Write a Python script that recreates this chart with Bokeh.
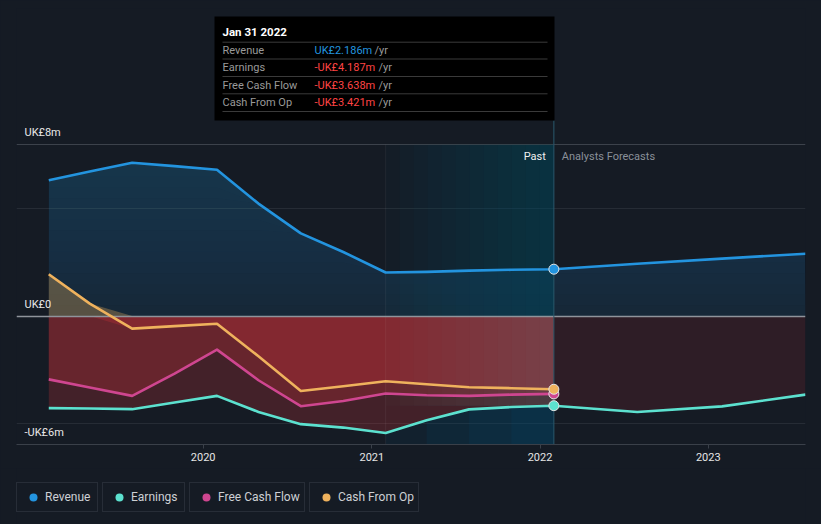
import numpy as np
import pandas as pd
from bokeh.plotting import figure
from bokeh.layouts import column
from bokeh.models import Range1d, FixedTicker, DatetimeTickFormatter, Legend, LegendItem
from bokeh.core.properties import value
from bokeh.embed import file_html
from bokeh.resources import INLINE

# ---------------- data ----------------
dates_past = ["2019-01-31", "2019-04-30", "2019-07-31", "2019-10-31",
              "2020-01-31", "2020-04-30", "2020-07-31", "2020-10-31",
              "2021-01-31", "2021-04-30", "2021-07-31", "2021-10-31",
              "2022-01-31"]
revenue_past = [6.34, 6.75, 7.16, 7.0, 6.83, 5.25, 3.86, 2.99, 2.03, 2.06, 2.12, 2.16, 2.186]
earnings_past = [-4.30, -4.32, -4.35, -4.04, -3.73, -4.48, -5.05, -5.21, -5.46, -4.87, -4.36, -4.25, -4.187]
fcf_past = [-2.96, -3.34, -3.73, -2.69, -1.57, -3.0, -4.21, -3.97, -3.62, -3.70, -3.73, -3.67, -3.638]
cfo_past = [1.95, 0.58, -0.59, -0.47, -0.36, -1.88, -3.50, -3.28, -3.05, -3.19, -3.33, -3.37, -3.421]

dates_fc = ["2022-07-31", "2023-01-31", "2023-07-31"]
revenue_fc = [2.44, 2.68, 2.91]
earnings_fc = [-4.48, -4.22, -3.67]

year_ticks = ["2020-01-01", "2021-01-01", "2022-01-01", "2023-01-01"]
y_label_values = [8, 0, -6]
y_labels = ["UK£8m", "UK£0", "-UK£6m"]
grid_values = [-5, 5]
series_names = ["Revenue", "Earnings", "Free Cash Flow", "Cash From Op"]
past_start = "2021-01-31"

# ---------------- style ----------------
BG = "#151b24"
FONT = "Roboto"
C_REV = "#2394df"
C_EARN = "#5ce1cf"
C_FCF = "#cf4690"
C_CFO = "#efb25d"
C_RED = "#e6353b"


def ms(d):
    return pd.Timestamp(d).value / 1e6


W, H_MAIN, H_LEG = 821, 468, 56
X0, X1 = ms("2018-11-22"), ms("2023-07-31")
Y0, Y1 = -6.0, 14.36
# frame in page pixels
FL, FR, FT, FB = 16, 805, 8, 444


def px_x(px):
    return X0 + (px - FL) / (FR - FL) * (X1 - X0)


def px_y(py):
    return Y1 - (py - FT) / (FB - FT) * (Y1 - Y0)


dp = np.array([ms(d) for d in dates_past])
dfc = np.array([ms(d) for d in dates_fc])
d_all = np.concatenate([dp, dfc])
d_fc = np.concatenate([dp[-1:], dfc])
rev_all = np.array(revenue_past + revenue_fc)
earn_past = np.array(earnings_past)
earn_fc = np.array(earnings_past[-1:] + earnings_fc)
earn_all = np.array(earnings_past + earnings_fc)
fcf = np.array(fcf_past)
cfo = np.array(cfo_past)
d_last = dp[-1]
d_hl = ms(past_start)
hl_mask = dp >= d_hl
dp_hl = dp[hl_mask]
earn_hl = earn_past[hl_mask]

p = figure(width=W, height=H_MAIN, x_axis_type="datetime", y_axis_location=None,
           x_range=Range1d(X0, X1), y_range=Range1d(Y0, Y1),
           output_backend="svg", toolbar_location=None,
           min_border_left=FL, min_border_right=W - FR, min_border_top=FT,
           min_border_bottom=H_MAIN - FB,
           background_fill_color=BG, border_fill_color=BG, outline_line_color=None)
p.xgrid.visible = False
p.ygrid.visible = False

# grid lines
p.hspan(y=grid_values, line_color="#262c35", line_width=1)
p.hspan(y=[y_label_values[0]], line_color="#3c424b", line_width=1)

# revenue fill: base layer + stacked thin layers for a vertical gradient
p.varea(x=d_all, y1=0, y2=rev_all, fill_color=C_REV, fill_alpha=0.11)
for k in np.arange(0.5, 8.0, 0.5):
    p.varea(x=d_all, y1=np.minimum(k, rev_all), y2=rev_all, fill_color=C_REV, fill_alpha=0.016)
# positive cash-from-op fill
p.varea(x=dp, y1=0, y2=np.maximum(cfo, 0), fill_color=C_CFO, fill_alpha=0.3)
# negative fills
for s, xs in ((cfo, dp), (fcf, dp), (earn_past, dp)):
    p.varea(x=xs, y1=0, y2=np.minimum(s, 0), fill_color=C_RED, fill_alpha=0.22)
p.varea(x=d_fc, y1=0, y2=np.minimum(earn_fc, 0), fill_color=C_RED, fill_alpha=0.12)

# past-year highlight: horizontal gradient built from stacked layers
n_q = 12
for i in range(n_q):
    left = d_hl + (d_last - d_hl) * i / n_q
    p.quad(left=[left], right=[d_last], bottom=[0], top=[y_label_values[0]],
           fill_color="#005478", fill_alpha=0.045, line_color=None)
    p.quad(left=[left], right=[d_last], bottom=[earn_hl.max()], top=[0],
           fill_color="#7088a0", fill_alpha=0.027, line_color=None)
for j in range(len(dp_hl) - 1):
    p.varea(x=dp_hl[j:], y1=Y0, y2=earn_hl[j:], fill_color="#005478", fill_alpha=0.12)
p.segment(x0=[d_hl], y0=[Y0], x1=[d_hl], y1=[y_label_values[0]], line_color="#ffffff",
          line_alpha=0.06, line_width=1)

# zero line
p.hspan(y=[0], line_color="#8f949b", line_width=1.5)

# vertical marker line
p.segment(x0=[d_last], y0=[Y0], x1=[d_last], y1=[px_y(120)], line_color="#2a5a6c", line_width=1)

# lines
p.line(d_all, rev_all, line_color=C_REV, line_width=2.6, line_join="round")
p.line(dp, cfo, line_color=C_CFO, line_width=2.6, line_join="round")
p.line(dp, fcf, line_color=C_FCF, line_width=2.6, line_join="round")
p.line(d_all, earn_all, line_color=C_EARN, line_width=2.6, line_join="round")

# end markers
last_vals = [revenue_past[-1], earnings_past[-1], fcf_past[-1], cfo_past[-1]]
colors = [C_REV, C_EARN, C_FCF, C_CFO]
for v, c in zip(last_vals, colors):
    p.scatter(x=[d_last], y=[v], size=10, fill_color=c, line_color="#e6e6e6", line_width=1)

# y labels
p.text(x=[X0] * len(y_labels), y=y_label_values, text=y_labels, x_offset=8, y_offset=-12,
       text_baseline="middle", text_align="left", text_font=value(FONT),
       text_font_size="11px", text_color="#e8e8e8")

# Past / forecast labels
p.text(x=[d_last], y=[y_label_values[0]], text=["Past"], x_offset=-8, y_offset=12,
       text_baseline="middle", text_align="right", text_font=value(FONT),
       text_font_size="11px", text_color="#f0f0f0")
p.text(x=[d_last], y=[y_label_values[0]], text=["Analysts Forecasts"], x_offset=8, y_offset=12,
       text_baseline="middle", text_align="left", text_font=value(FONT),
       text_font_size="11px", text_color="#8a9099")

# tooltip box
p.quad(left=[px_x(214)], right=[px_x(554)], bottom=[px_y(120)], top=[px_y(16)],
       fill_color="#000000", line_color=None)
sep_y = [41.7, 58.5, 76, 93.3, 111]
p.segment(x0=[px_x(222)] * 5, y0=[px_y(v) for v in sep_y], x1=[px_x(547)] * 5,
          y1=[px_y(v) for v in sep_y], line_color="#3a3a3a", line_width=1)
title = pd.Timestamp(dates_past[-1]).strftime("%b %d %Y")
p.text(x=[px_x(222)], y=[px_y(31)], text=[title], text_baseline="middle",
       text_font=value(FONT), text_font_size="11.5px", text_color="#ffffff",
       text_font_style="bold")
row_y = [px_y(v) for v in (50, 67, 84.5, 102)]


def fmt(v):
    return ("-" if v < 0 else "") + "UK£%.3fm" % abs(v)


vals_txt = [fmt(v) for v in last_vals]
val_cols = [C_REV if v >= 0 else "#ff4444" for v in last_vals]
p.text(x=[px_x(222)] * 4, y=row_y, text=series_names, text_baseline="middle",
       text_font=value(FONT), text_font_size="11px", text_color="#9a9a9a")
p.text(x=[px_x(314)] * 4, y=row_y, text=vals_txt, text_baseline="middle",
       text_font=value(FONT), text_font_size="11px", text_color=val_cols)
p.text(x=[px_x(374), px_x(378), px_x(378), px_x(378)], y=row_y, text=["/yr"] * 4,
       text_baseline="middle", text_font=value(FONT), text_font_size="11px",
       text_color="#9a9a9a")

# x axis
p.xaxis.ticker = FixedTicker(ticks=[ms(t) for t in year_ticks])
p.xaxis.formatter = DatetimeTickFormatter(years="%Y", months="%Y", days="%Y", hours="%Y")
p.xaxis.axis_line_color = "#3a4049"
p.xaxis.major_tick_line_color = "#3a4049"
p.xaxis.major_tick_out = 4
p.xaxis.major_tick_in = 0
p.xaxis.minor_tick_line_color = None
p.xaxis.major_label_text_color = "#e6e6e6"
p.xaxis.major_label_text_font = FONT
p.xaxis.major_label_text_font_size = "11px"
p.xaxis.major_label_standoff = 4

# legend strip (separate figure below the chart)
pl = figure(width=W, height=H_LEG, x_axis_location=None, y_axis_location=None,
            x_range=Range1d(0, 1), y_range=Range1d(0, 1),
            output_backend="svg", toolbar_location=None,
            min_border_left=0, min_border_right=0, min_border_top=0, min_border_bottom=0,
            background_fill_color=BG, border_fill_color=BG, outline_line_color=None)
pl.xgrid.visible = False
pl.ygrid.visible = False
leg_x = [0, 86, 173, 293]
leg_label_w = [48, 49, 82, 76]
for name, c, lx, lw in zip(series_names, colors, leg_x, leg_label_w):
    r = pl.scatter(x=[np.nan], y=[np.nan], size=9, fill_color=c, line_color=None)
    leg = Legend(items=[LegendItem(label=name, renderers=[r])], location=(lx, 12),
                 orientation="horizontal", background_fill_color=BG, background_fill_alpha=1,
                 border_line_color="#3a4049", border_line_width=1, padding=4, margin=0,
                 spacing=0, glyph_width=24, glyph_height=20, label_height=20,
                 label_width=lw, label_standoff=0, label_text_font=FONT,
                 label_text_font_size="12px", label_text_color="#cdd0d4")
    pl.add_layout(leg)

layout = column(p, pl, spacing=0)
html = file_html(layout, INLINE)
html = html.replace("</head>",
                    "<style>html,body{margin:0;padding:0;background:%s;}</style></head>" % BG, 1)
open("out.html", "w").write(html)
